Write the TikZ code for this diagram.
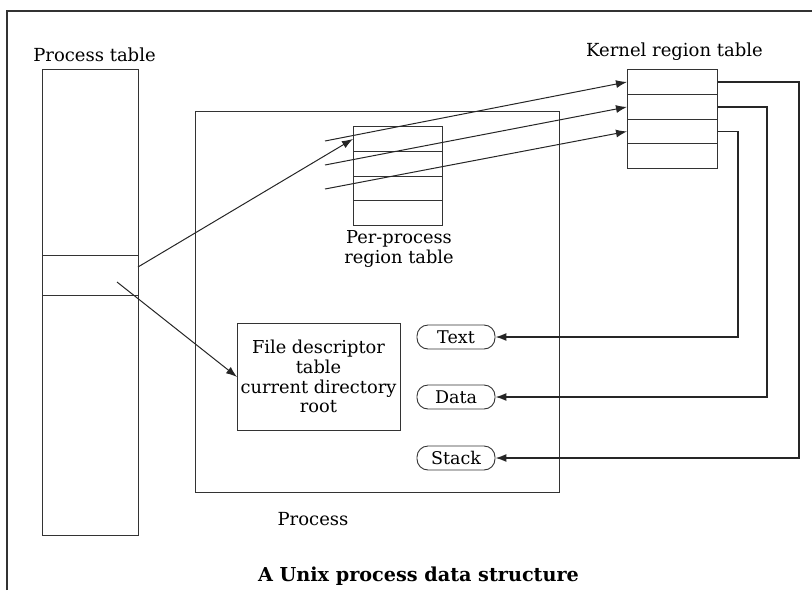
\documentclass[tikz,border=0pt]{standalone}
\usepackage{fontspec}
\setmainfont{DejaVu Serif}
\usetikzlibrary{arrows.meta}
\begin{document}
\begin{tikzpicture}[x=1pt,y=-1pt,
  box/.style={draw=black!80,line width=0.9pt,inner sep=0pt,anchor=north west},
  lbl/.style={anchor=base,inner sep=0pt,font=\fontsize{18}{20}\selectfont},
  inner/.style={anchor=base,inner sep=0pt,font=\fontsize{17.8}{20}\selectfont},
  pill/.style={draw=black!80,line width=0.9pt,rounded corners=11pt,minimum width=78pt,minimum height=24pt,inner sep=0pt,font=\fontsize{17.5}{20}\selectfont},
  arr/.style={line width=1pt,draw=black!85,-{Latex[length=11pt,width=8pt]}},
  conn/.style={line width=1.4pt,draw=black!85,-{Latex[length=11pt,width=8pt]}}]
\useasboundingbox (0,0) rectangle (812,590);
% frame
\draw[line width=1.4pt,black!80] (7,590) -- (7,11) -- (812,11);
% process table
\node[box,minimum width=96pt,minimum height=186pt] (ptop) at (42,69) {};
\node[box,minimum width=96pt,minimum height=40pt] (pmid) at (42,255) {};
\node[box,minimum width=96pt,minimum height=240pt] (pbot) at (42,295) {};
\node[lbl] (ptlbl) at (94.5,61) {Process table};
% process box
\node[box,minimum width=364pt,minimum height=381pt] (proc) at (195,111) {};
\node[lbl] (proclbl) at (313,525) {Process};
% per-process region table
\node[box,minimum width=89pt,minimum height=25pt] (pp1) at (353,126) {};
\node[box,minimum width=89pt,minimum height=25pt] (pp2) at (353,151) {};
\node[box,minimum width=89pt,minimum height=24pt] (pp3) at (353,176) {};
\node[box,minimum width=89pt,minimum height=25pt] (pp4) at (353,200) {};
\node[inner] (pplbl1) at (399,243) {Per-process};
\node[inner] (pplbl2) at (399,263) {region table};
% kernel region table
\node[box,minimum width=90pt,minimum height=25pt] (k1) at (627,69) {};
\node[box,minimum width=90pt,minimum height=25pt] (k2) at (627,94) {};
\node[box,minimum width=90pt,minimum height=24pt] (k3) at (627,119) {};
\node[box,minimum width=90pt,minimum height=25pt] (k4) at (627,143) {};
\node[lbl] (klbl) at (674.5,56) {Kernel region table};
% file descriptor box
\node[box,minimum width=163pt,minimum height=107pt] (fd) at (237,323) {};
\node[inner] (fd1) at (318.5,353) {File descriptor};
\node[inner] (fd2) at (318.5,373) {table};
\node[inner] (fd3) at (318.5,393) {current directory};
\node[inner] (fd4) at (318.5,412) {root};
% pills
\node[pill] (text) at (456,337) {Text};
\node[pill] (data) at (456,397) {Data};
\node[pill] (stack) at (456,458) {Stack};
% caption
\node[anchor=base,inner sep=0pt,font=\bfseries\fontsize{19.2}{22}\selectfont] (cap) at (418.5,581) {A Unix process data structure};
% arrows
\coordinate (s1) at (138,267);
\coordinate (s2) at (117,282);
\coordinate (r1) at (325,141);
\coordinate (r2) at (325,165);
\coordinate (r3) at (325,189);
\draw[arr] (s1) -- (pp1.west);
\draw[arr] (s2) -- (fd.west);
\draw[arr] (r1) -- (k1.west);
\draw[arr] (r2) -- (k2.west);
\draw[arr] (r3) -- (k3.west);
% connectors
\draw[conn] (k1.east) -- ++(81,0) |- (stack.east);
\draw[conn] (k2.east) -- ++(49,0) |- (data.east);
\draw[conn] (k3.east) -- ++(20,0) |- (text.east);
\end{tikzpicture}
\end{document}
